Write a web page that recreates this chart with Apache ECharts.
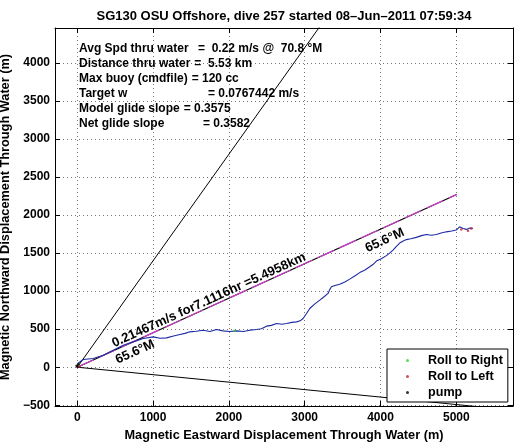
<!DOCTYPE html>
<html><head><meta charset="utf-8">
<script src="https://cdn.jsdelivr.net/npm/echarts@6/dist/echarts.min.js"></script>
<style>html,body{margin:0;padding:0;background:#fff}#c{width:522px;height:442px}</style>
</head><body><div id="c"></div>
<script>
// ---- data ----
const trackEast = [0, 10, 79, 211, 343, 474, 606, 738, 870, 1002, 1090, 1178, 1270, 1354, 1420, 1485, 1570, 1661, 1750, 1837, 1920, 2010, 2101, 2190, 2276, 2364, 2430, 2496, 2560, 2628, 2700, 2760, 2830, 2892, 2940, 2979, 3020, 3067, 3130, 3199, 3260, 3308, 3330, 3353, 3400, 3462, 3530, 3594, 3660, 3726, 3790, 3858, 3900, 3946, 4010, 4078, 4120, 4165, 4210, 4253, 4300, 4341, 4400, 4473, 4540, 4605, 4670, 4737, 4800, 4869, 4940, 5000, 5044, 5090, 5132, 5180, 5219];
const trackNorth = [0, 53, 101, 114, 158, 224, 290, 333, 378, 399, 380, 386, 410, 430, 445, 465, 472, 487, 470, 496, 478, 470, 478, 470, 487, 496, 505, 540, 550, 575, 565, 575, 590, 596, 610, 641, 700, 772, 830, 882, 930, 970, 1020, 1057, 1075, 1092, 1120, 1158, 1200, 1244, 1275, 1320, 1350, 1395, 1425, 1467, 1500, 1540, 1590, 1632, 1660, 1678, 1690, 1707, 1730, 1744, 1735, 1744, 1765, 1780, 1790, 1803, 1846, 1825, 1812, 1830, 1825];
const courseLine = [[0, 0], [5004.8, 2271.4]];      // 0.21467 m/s for 7.1116 hr = 5.4958 km @ 65.6°M
const wedgeLeft = [[0, 0], [3900, 5460]];            // heading - 30°
const wedgeRight = [[0, 0], [6000, -589]];           // heading + 30°
const rollRight = [[2079, 478], [20, 30]];
const rollLeft = [[5066, 1812], [5154, 1795], [5198, 1825], [30, 10]];
const pumpPts = [[0, 5], [15, 40], [-10, 20]];
const legendNames = ['Roll to Right', 'Roll to Left', 'pump'];
const infoLabels = ['Avg Spd thru water', 'Distance thru water', 'Max buoy (cmdfile)', 'Target w', 'Model glide slope', 'Net glide slope'];
const infoValues = ['=  0.22 m/s @  70.8 °M', '=  5.53 km', '= 120 cc', '= 0.0767442 m/s', '= 0.3575', '= 0.3582'];
const titleText = 'SG130 OSU Offshore, dive 257 started 08\u2013Jun\u20132011 07:59:34';
const courseText = '0.21467m/s for7.1116hr =5.4958km';
const headingText = '65.6°M';
const xName = 'Magnetic Eastward Displacement Through Water (m)';
const yName = 'Magnetic Northward Displacement Through Water (m)';

// ---- layout ----
const FONT = "'Liberation Sans', Arial, Helvetica, sans-serif";
const X_MIN = -294, X_MAX = 5748, Y_MIN = -510, Y_MAX = 4460;
const infoX = [198, 185, 188, 208, 182, 203];
const infoY = [49, 64, 79, 94, 109, 124];
const courseTextAt = [1736, 880];
const headingTextAt = [[762, 200], [4056, 1668]];

const track = trackEast.map((e, i) => [e, trackNorth[i]]);
const bold12 = {fontSize: 12, fontWeight: 'bold', fontFamily: FONT, color: '#000'};
const boldName = {fontSize: 12.75, fontWeight: 'bold', fontFamily: FONT, color: '#000'};

function xAx(pos, show) {
  return {
    type: 'value', position: pos, min: X_MIN, max: X_MAX, minInterval: 1000, maxInterval: 1000,
    axisLine: {show: true, onZero: false, lineStyle: {color: '#000', width: 1}},
    axisTick: {show: true, inside: true, length: 5, lineStyle: {color: '#000'}},
    axisLabel: {show: show, showMinLabel: false, showMaxLabel: false, margin: 6, ...bold12,
      formatter: v => String(v)},
    splitLine: {show: show, lineStyle: {type: [1, 3], color: '#777', width: 1}},
    name: show ? xName : '', nameLocation: 'middle', nameGap: 20, nameTextStyle: boldName
  };
}
function yAx(pos, show) {
  return {
    type: 'value', position: pos, min: Y_MIN, max: Y_MAX, minInterval: 500, maxInterval: 500,
    axisLine: {show: true, onZero: false, lineStyle: {color: '#000', width: 1}},
    axisTick: {show: true, inside: true, length: 5, lineStyle: {color: '#000'}},
    axisLabel: {show: show, showMinLabel: true, showMaxLabel: false, margin: 5, ...bold12,
      formatter: v => (v === Y_MIN ? '' : (v < 0 ? '\u2212' + (-v) : String(v)))},
    splitLine: {show: show, lineStyle: {type: [1, 3], color: '#777', width: 1}},
    name: show ? yName : '', nameLocation: 'middle', nameGap: 42, nameTextStyle: boldName
  };
}

const chart = echarts.init(document.getElementById('c'), null, {renderer: 'canvas'});
const option = {
  animation: false,
  backgroundColor: '#fff',
  grid: {left: 55, right: 9, top: 28, bottom: 36, containLabel: false, outerBoundsMode: 'none'},
  xAxis: [xAx('bottom', true), xAx('top', false)],
  yAxis: [yAx('left', true), yAx('right', false)],
  legend: {
    orient: 'vertical', left: 387, top: 349, data: legendNames,
    backgroundColor: '#fff', borderColor: '#000', borderWidth: 1, borderRadius: 0,
    padding: [4, 5, 2, 19], itemGap: 1, itemWidth: 3, itemHeight: 3, icon: 'circle',
    textStyle: {fontSize: 12.6, fontWeight: 'bold', fontFamily: FONT, color: '#000', lineHeight: 15, padding: [0, 0, 0, 14]},
    selectedMode: false
  },
  series: [
    {type: 'line', name: 'wedgeL', data: wedgeLeft, symbol: 'none', lineStyle: {color: '#000', width: 1}, silent: true, z: 2},
    {type: 'line', name: 'wedgeR', data: wedgeRight, symbol: 'none', lineStyle: {color: '#000', width: 1}, silent: true, z: 2},
    {type: 'line', name: 'courseBlack', data: courseLine, symbol: 'none', lineStyle: {color: '#000', width: 1.2}, silent: true, z: 3},
    {type: 'line', name: 'courseMag', data: courseLine, symbol: 'none', lineStyle: {color: '#d13fd1', width: 1.2, type: [18, 6]}, silent: true, z: 4},
    {type: 'line', name: 'track', data: track, symbol: 'none', lineStyle: {color: '#1c2aa3', width: 1.1}, silent: true, z: 5},
    {type: 'scatter', name: legendNames[0], data: rollRight, symbol: 'circle', symbolSize: 2.5, itemStyle: {color: '#2fd12f'}, z: 6},
    {type: 'scatter', name: legendNames[1], data: rollLeft, symbol: 'circle', symbolSize: 2.5, itemStyle: {color: '#c81e2c'}, z: 6},
    {type: 'scatter', name: legendNames[2], data: pumpPts, symbol: 'circle', symbolSize: 2.5, itemStyle: {color: '#000'}, z: 6}
  ]
};
chart.setOption(option);

const ctx = document.createElement('canvas').getContext('2d');
const infoFont = 'bold 12px ' + FONT;
ctx.font = infoFont;

const p0 = chart.convertToPixel({gridIndex: 0}, courseLine[0]);
const p1 = chart.convertToPixel({gridIndex: 0}, courseLine[1]);
const ang = Math.atan2(-(p1[1] - p0[1]), p1[0] - p0[0]);
const gfx = [];
gfx.push({type: 'text', x: 284, y: 16, z: 100, style: {text: titleText, align: 'center', verticalAlign: 'middle', font: 'bold 13px ' + FONT, fill: '#000'}});
infoLabels.forEach((t, i) => {
  const w = ctx.measureText(t).width;
  const vx = Math.max(infoX[i], 79 + w + 4);
  gfx.push({type: 'text', x: 79, y: infoY[i], z: 100, style: {text: t, align: 'left', verticalAlign: 'middle', font: infoFont, fill: '#000'}});
  gfx.push({type: 'text', x: vx, y: infoY[i], z: 100, style: {text: infoValues[i], align: 'left', verticalAlign: 'middle', font: infoFont, fill: '#000'}});
});
const cp = chart.convertToPixel({gridIndex: 0}, courseTextAt);
gfx.push({type: 'text', x: cp[0], y: cp[1], rotation: ang, z: 100, style: {text: courseText, align: 'center', verticalAlign: 'middle', font: 'bold 13px ' + FONT, fill: '#000'}});
headingTextAt.forEach(h => {
  const hp = chart.convertToPixel({gridIndex: 0}, h);
  gfx.push({type: 'text', x: hp[0], y: hp[1], rotation: ang, z: 100, style: {text: headingText, align: 'center', verticalAlign: 'middle', font: 'bold 13px ' + FONT, fill: '#000'}});
});
chart.setOption({graphic: gfx});
</script>
</body></html>
